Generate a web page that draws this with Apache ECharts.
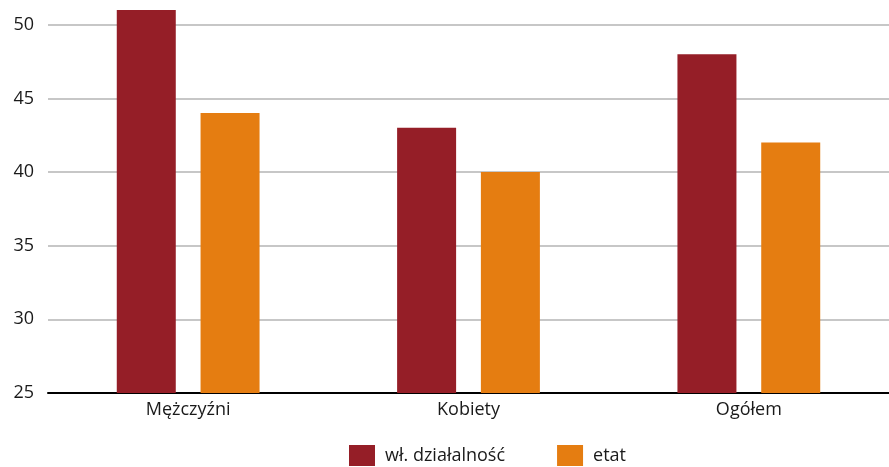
<!DOCTYPE html>
<html>
<head>
<meta charset="utf-8">
<script src="https://cdn.jsdelivr.net/npm/echarts@6/dist/echarts.min.js"></script>
<style>
  html, body { margin: 0; padding: 0; background: #fff; }
  #chart { width: 889px; height: 467px; }
</style>
</head>
<body>
<div id="chart"></div>
<script>
// Categories and series values
const categories = ['Mężczyźni', 'Kobiety', 'Ogółem'];
const seriesNames = ['wł. działalność', 'etat'];
const wlDzialalnosc = [51, 43, 48];
const etat = [44, 40, 42];

const FONT = '"Open Sans", "Noto Sans", sans-serif';

const chart = echarts.init(document.getElementById('chart'));
chart.setOption({
  animation: false,
  backgroundColor: '#ffffff',
  color: ['#951e27', '#e57d11'],
  grid: { left: 48, right: 0, top: 10, bottom: 74, containLabel: false },
  legend: {
    data: seriesNames,
    left: 349,
    top: 445,
    itemWidth: 26,
    itemHeight: 21,
    itemGap: 52,
    icon: 'rect',
    textStyle: { fontFamily: FONT, fontSize: 18, color: '#1a1a1a', padding: [0, 0, 0, 5] },
    padding: 0
  },
  xAxis: {
    type: 'category',
    data: categories,
    axisLine: { show: true, lineStyle: { color: '#000', width: 2 } },
    axisTick: { show: false },
    axisLabel: { fontFamily: FONT, fontSize: 18, color: '#1a1a1a', margin: 8 }
  },
  yAxis: {
    type: 'value',
    min: 25,
    max: 51,
    interval: 5,
    axisLine: { show: false },
    axisTick: { show: false },
    axisLabel: { fontFamily: FONT, fontSize: 18, color: '#1a1a1a', margin: 14, showMaxLabel: false },
    splitLine: { show: true, showMaxLine: false, lineStyle: { color: '#b4b4b4', width: 1.5 } }
  },
  series: [
    { name: seriesNames[0], type: 'bar', data: wlDzialalnosc, barWidth: 59, barGap: '42%' },
    { name: seriesNames[1], type: 'bar', data: etat, barWidth: 59, barGap: '42%' }
  ]
});
</script>
</body>
</html>
